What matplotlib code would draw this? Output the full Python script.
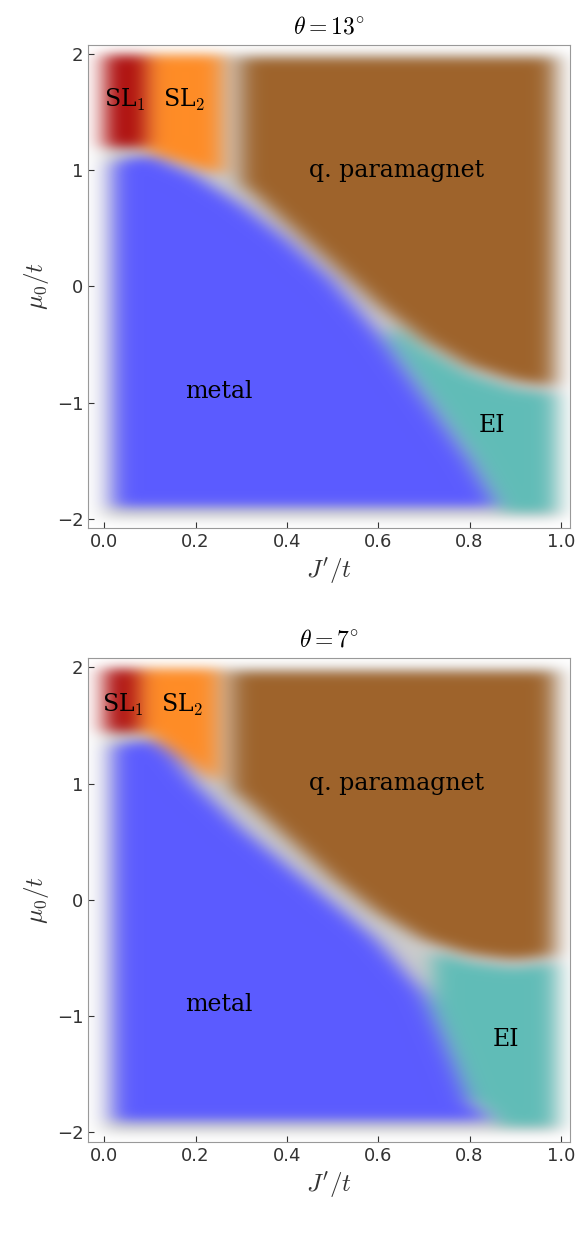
import numpy as np
import matplotlib.pyplot as plt

plt.rcParams['mathtext.fontset'] = 'cm'

# phase boundaries (x = J'/t, y = mu0/t)
titles = [r'$\theta = 13^{\circ}$', r'$\theta = 7^{\circ}$']

metal_x = [[0.0, 0.05, 0.1, 0.2, 0.3, 0.4, 0.5, 0.6, 0.7, 0.8, 0.86, 0.9],
           [0.0, 0.05, 0.1, 0.15, 0.2, 0.3, 0.4, 0.5, 0.6, 0.7, 0.75, 0.8, 0.85, 0.9]]
metal_top = [[1.0, 1.1, 1.12, 0.95, 0.7, 0.4, 0.05, -0.4, -0.95, -1.5, -1.9, -2.2],
             [1.3, 1.35, 1.38, 1.25, 1.0, 0.62, 0.3, -0.02, -0.35, -0.8, -1.25, -1.75, -1.9, -2.2]]

pm_x = [[0.25, 0.3, 0.4, 0.5, 0.6, 0.7, 0.8, 0.9, 1.0],
        [0.25, 0.3, 0.4, 0.5, 0.6, 0.7, 0.8, 0.9, 1.0]]
pm_bot = [[1.0, 0.85, 0.5, 0.15, -0.2, -0.5, -0.72, -0.85, -0.9],
          [1.0, 0.85, 0.5, 0.15, -0.15, -0.38, -0.5, -0.55, -0.5]]
pm_left = [0.3, 0.28]
ei_start = [0.63, 0.72]

sl1_right = [0.09, 0.075]
sl1_bot = [1.2, 1.45]
sl2_right = [0.26, 0.25]
sl2_bot_x = [[0.1, 0.26], [0.09, 0.25]]
sl2_bot_y = [[1.15, 0.95], [1.45, 1.0]]

label_pos = [{'SL$_1$': (0.045, 1.6), 'SL$_2$': (0.175, 1.6), 'q. paramagnet': (0.64, 1.0),
              'metal': (0.25, -0.9), 'EI': (0.85, -1.2)},
             {'SL$_1$': (0.04, 1.68), 'SL$_2$': (0.17, 1.68), 'q. paramagnet': (0.64, 1.0),
              'metal': (0.25, -0.9), 'EI': (0.88, -1.2)}]

colors = {0: (0.80, 0.80, 0.80), 1: (0.68, 0.05, 0.05), 2: (1.0, 0.55, 0.15),
          3: (0.62, 0.39, 0.17), 4: (0.36, 0.36, 1.0), 5: (0.38, 0.74, 0.72)}
white = (1.0, 1.0, 1.0)


def blur(a, s):
    k = np.arange(-3 * s, 3 * s + 1)
    g = np.exp(-k**2 / (2 * s * s)); g /= g.sum()
    a = np.pad(a, 3 * s, mode='edge')
    a = np.apply_along_axis(lambda r: np.convolve(r, g, mode='same'), 0, a)
    a = np.apply_along_axis(lambda r: np.convolve(r, g, mode='same'), 1, a)
    return a[3 * s:-3 * s, 3 * s:-3 * s]


def phase_image(i):
    xs = np.linspace(-0.04, 1.04, 270)
    ys = np.linspace(-2.1, 2.1, 520)
    X, Y = np.meshgrid(xs, ys)
    lab = np.zeros(X.shape, int)
    mt = np.interp(X, metal_x[i], metal_top[i])
    pb = np.interp(X, pm_x[i], pm_bot[i])
    lab[(X > 0.02) & (Y > -1.9) & (Y < mt)] = 4
    lab[(X > pm_left[i]) & (X < 0.985) & (Y < 1.97) & (Y > pb + 0.04)] = 3
    lab[(X > ei_start[i]) & (X < 0.99) & (Y > -1.95) & (Y < pb - 0.04) & (Y > mt + 0.06)] = 5
    sb = np.interp(X, sl2_bot_x[i], sl2_bot_y[i])
    lab[(X > sl1_right[i] + 0.005) & (X < sl2_right[i]) & (Y > sb) & (Y < 1.99)] = 2
    lab[(X > 0.0) & (X < sl1_right[i]) & (Y > sl1_bot[i]) & (Y < 1.99)] = 1
    inside = (X >= 0) & (X <= 1) & (Y >= -2) & (Y <= 2)
    img = np.zeros(X.shape + (3,))
    for k, c in colors.items():
        img[lab == k] = c
    img[~inside] = white
    img = np.stack([blur(img[..., c], 6) for c in range(3)], axis=-1)
    return np.clip(img, 0, 1)


fig = plt.figure(figsize=(5.81, 12.37), dpi=100)
rects = [[0.152, 0.573, 0.829, 0.391], [0.152, 0.077, 0.829, 0.391]]
for i in range(2):
    ax = fig.add_axes(rects[i])
    ax.imshow(phase_image(i), extent=[-0.04, 1.04, -2.1, 2.1], origin='lower',
              aspect='auto', interpolation='bilinear')
    ax.set_xlim(-0.035, 1.02)
    ax.set_ylim(-2.08, 2.08)
    ax.set_xticks([0.0, 0.2, 0.4, 0.6, 0.8, 1.0])
    ax.set_yticks([-2, -1, 0, 1, 2])
    ax.tick_params(labelsize=13, direction='in', length=4, colors='#333333')
    for sp in ax.spines.values():
        sp.set_color('#999999')
    ax.set_xlabel(r"$J'/t$", fontsize=18, color='#333333')
    ax.set_ylabel(r'$\mu_0/t$', fontsize=18, color='#333333')
    ax.set_title(titles[i], fontsize=17, pad=8)
    for txt, (x, y) in label_pos[i].items():
        ax.text(x, y, txt, fontsize=17, ha='center', va='center', family='serif')

fig.savefig('out.png', dpi=100)
